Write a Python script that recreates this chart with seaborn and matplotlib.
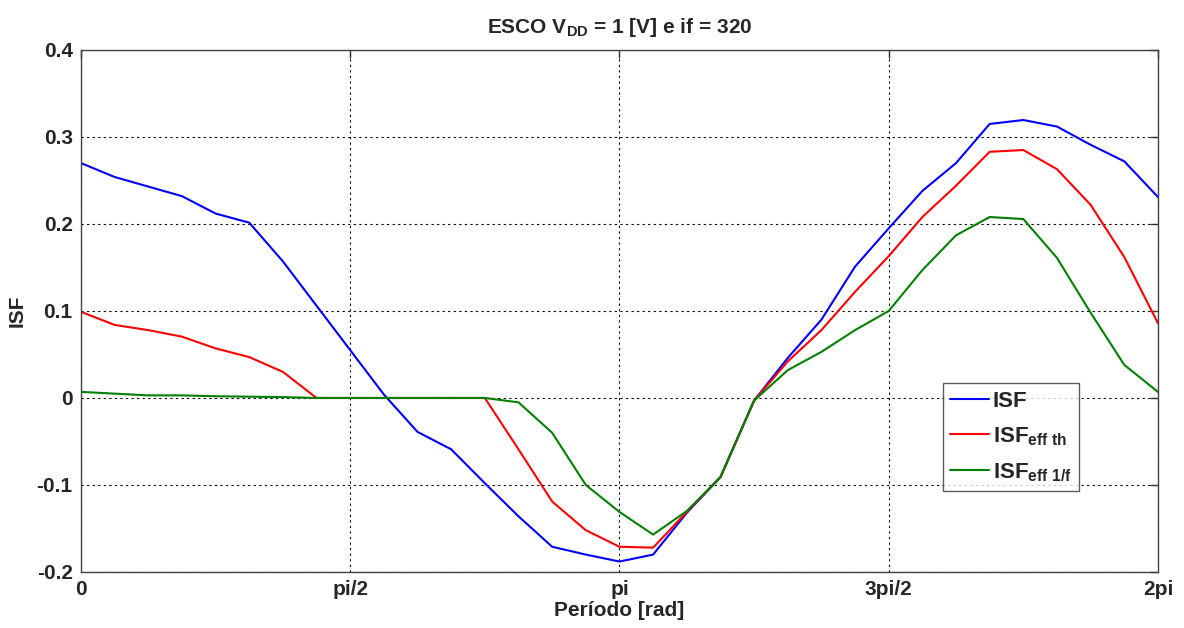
import numpy as np
import pandas as pd
import matplotlib
matplotlib.use("Agg")
import matplotlib.pyplot as plt
import seaborn as sns

# Sample phases: 33 equally spaced points over one period
n_points = 33
phase_labels = ["0", "pi/2", "pi", "3pi/2", "2pi"]

isf = [0.270, 0.254, 0.243, 0.232, 0.212, 0.2015, 0.157, 0.106, 0.055, 0.004,
       -0.039, -0.059, -0.098, -0.136, -0.171, -0.180, -0.188, -0.180, -0.132, -0.091,
       -0.003, 0.046, 0.090, 0.151, 0.195, 0.238, 0.270, 0.315, 0.3195, 0.312,
       0.291, 0.272, 0.231]
isf_eff_th = [0.099, 0.084, 0.078, 0.0705, 0.057, 0.047, 0.030, 0.0, 0.0, 0.0,
              0.0, 0.0, 0.0, -0.059, -0.119, -0.152, -0.171, -0.172, -0.131, -0.091,
              -0.003, 0.042, 0.078, 0.122, 0.163, 0.208, 0.244, 0.283, 0.285, 0.263,
              0.222, 0.162, 0.086]
isf_eff_1f = [0.007, 0.005, 0.003, 0.003, 0.002, 0.0015, 0.001, 0.0, 0.0, 0.0,
              0.0, 0.0, 0.0, -0.005, -0.040, -0.100, -0.131, -0.157, -0.130, -0.091,
              -0.003, 0.032, 0.053, 0.078, 0.100, 0.147, 0.187, 0.208, 0.2057, 0.161,
              0.098, 0.038, 0.007]

series_names = ["ISF", r"ISF$_{\mathbf{eff\ th}}$", r"ISF$_{\mathbf{eff\ 1/f}}$"]
series_colors = ["#0000FF", "#FF0000", "#008000"]

phase = np.linspace(0, 2 * np.pi, n_points)
df = pd.DataFrame({
    "phase": np.tile(phase, 3),
    "value": isf + isf_eff_th + isf_eff_1f,
    "series": np.repeat(series_names, n_points),
})

sns.set_style("white")
plt.rcParams["font.family"] = ["Liberation Sans", "DejaVu Sans"]
plt.rcParams["font.weight"] = "bold"
plt.rcParams["mathtext.fontset"] = "custom"
plt.rcParams["mathtext.rm"] = "Liberation Sans:bold"
plt.rcParams["mathtext.bf"] = "Liberation Sans:bold"
plt.rcParams["mathtext.it"] = "Liberation Sans:bold"

fig = plt.figure(figsize=(11.84, 6.28), dpi=100)
ax = fig.add_axes([0.0684, 0.0892, 0.9096, 0.8312])

sns.lineplot(data=df, x="phase", y="value", hue="series", hue_order=series_names,
             palette=series_colors, linewidth=1.5, ax=ax, legend=True)

ax.set_xlim(0, 2 * np.pi)
ax.set_ylim(-0.2, 0.4)
ax.set_xticks(np.linspace(0, 2 * np.pi, 5))
ax.set_xticklabels(phase_labels)
yt = [-0.2, -0.1, 0.0, 0.1, 0.2, 0.3, 0.4]
ax.set_yticks(yt)
ax.set_yticklabels(["-0.2", "-0.1", "0", "0.1", "0.2", "0.3", "0.4"])
ax.tick_params(axis="both", direction="in", length=6, labelsize=15, width=1,
               color="#333333", top=True, right=True, pad=6)
for lab in ax.get_xticklabels() + ax.get_yticklabels():
    lab.set_fontweight("bold")

ax.grid(True, color="black", linestyle=(0, (2, 3)), linewidth=0.8)
for sp in ax.spines.values():
    sp.set_color("#444444")
    sp.set_linewidth(1.0)

ax.set_xlabel("Período [rad]", fontsize=15, fontweight="bold", labelpad=1)
ax.set_ylabel("ISF", fontsize=15, fontweight="bold", labelpad=7)
ax.set_title(r"ESCO V$_{\mathbf{DD}}$ = 1 [V] e if = 320", fontsize=15,
             fontweight="bold", pad=12)

leg = ax.legend(loc="upper left", bbox_to_anchor=(0.80, 0.362), borderaxespad=0,
                fontsize=16, frameon=True, fancybox=False, handlelength=1.75,
                handletextpad=0.15, labelspacing=0.6, borderpad=0.35)
leg.get_frame().set_edgecolor("#333333")
leg.get_frame().set_linewidth(1.0)
for t in leg.get_texts():
    t.set_fontweight("bold")

fig.savefig("out.png", dpi=100)
